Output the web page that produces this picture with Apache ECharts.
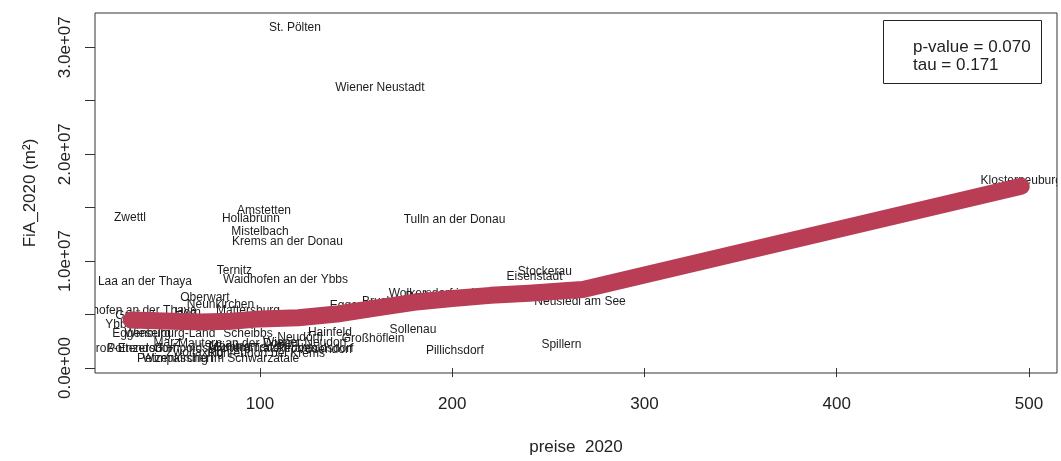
<!DOCTYPE html>
<html>
<head>
<meta charset="utf-8">
<script src="https://cdn.jsdelivr.net/npm/echarts@6/dist/echarts.min.js"></script>
<style>
  html, body { margin: 0; padding: 0; background: #fff; }
  #chart { width: 1061px; height: 461px; }
</style>
</head>
<body>
<div id="chart"></div>
<script>
// Gemeinden: Preis 2020 vs. FiA_2020
const gemeinden = [
  'St. Pölten', 'Wiener Neustadt', 'Klosterneuburg', 'Zwettl', 'Amstetten',
  'Hollabrunn', 'Mistelbach', 'Krems an der Donau', 'Tulln an der Donau', 'Laa an der Thaya',
  'Ternitz', 'Waidhofen an der Ybbs', 'Oberwart', 'Neunkirchen', 'Mattersburg',
  'Waidhofen an der Thaya', 'Horn', 'Gmünd', 'Ybbs an der Donau', 'Eggenburg',
  'Wieselburg-Land', 'Scheibbs', 'Hainfeld', 'Neudörfl', 'Großhöflein',
  'Sollenau', 'Pillichsdorf', 'Spillern', 'Neusiedl am See', 'Eisenstadt',
  'Stockerau', 'Wolkersdorf im Weinviertel', 'Baden', 'Bruck an der Leitha', 'Eggendorf',
  'Marz', 'Mautern an der Donau', 'Wiener Neudorf', 'Groß-Enzersdorf', 'Pottendorf',
  'Gumpoldskirchen', 'Mödling', 'Guntramsdorf', 'Traiskirchen', 'Perchtoldsdorf',
  'Vösendorf', 'Zwölfaxing', 'Rohrendorf bei Krems', 'Petzenkirchen', 'Wimpassing im Schwarzatale'
]
const preise = [
  118.2, 162.4, 496.0, 32.4, 102.1,
  95.3, 100.0, 114.3, 201.2, 40.2,
  86.7, 113.3, 71.4, 79.5, 93.8,
  32.9, 62.5, 35.0, 46.4, 38.4,
  53.2, 93.8, 136.4, 120.8, 158.8,
  179.6, 201.4, 256.8, 266.5, 242.8,
  248.2, 204.0, 184.8, 180.1, 150.7,
  51.6, 88.6, 123.4, 33.0, 35.0,
  68.9, 84.4, 94.8, 113.0, 128.6,
  133.8, 66.2, 103.3, 55.8, 79.7
]
const fia = [
  31790000, 26240000, 17540000, 14040000, 14680000,
  13940000, 12740000, 11830000, 13850000, 8110000,
  9130000, 8300000, 6540000, 5900000, 5340000,
  5340000, 5150000, 4870000, 4040000, 3210000,
  3210000, 3210000, 3300000, 2840000, 2750000,
  3580000, 1640000, 2190000, 6170000, 8580000,
  9040000, 6910000, 6630000, 6170000, 5800000,
  2380000, 2290000, 2380000, 1830000, 1830000,
  1830000, 2010000, 1920000, 1830000, 1830000,
  1740000, 1460000, 1360000, 900000, 900000
]

// lowess-Kurve
const lowessX = [33, 50, 69, 85, 100, 120, 140, 160, 180, 200, 220, 240, 260, 268, 496]
const lowessY = [4500000, 4400000, 4300000, 4370000, 4600000, 4700000, 5050000, 5600000,
  6150000, 6500000, 6800000, 7000000, 7250000, 7350000, 17000000]

const xTicks = [100, 200, 300, 400, 500]
const yTicks = [0, 5e6, 1e7, 1.5e7, 2e7, 2.5e7, 3e7]
const yLabels = [0, 1e7, 2e7, 3e7]
const legendLines = ['p-value = 0.070', 'tau = 0.171']

const FONT = '"Liberation Sans", Arial, sans-serif'
const INK = '#222'

function sci (v) {
  if (v === 0) return '0.0e+00'
  const e = Math.floor(Math.log10(Math.abs(v)))
  const m = v / Math.pow(10, e)
  return m.toFixed(1) + 'e' + (e < 0 ? '-' : '+') + String(Math.abs(e)).padStart(2, '0')
}

const chart = echarts.init(document.getElementById('chart'))

const option = {
  animation: false,
  backgroundColor: '#fff',
  grid: {
    left: 95, right: 4, top: 13, bottom: 84,
    show: true, borderColor: '#333', borderWidth: 1, backgroundColor: 'transparent'
  },
  xAxis: {
    type: 'value',
    min: 14.2,
    max: 514.6,
    name: 'preise  2020',
    nameLocation: 'middle',
    nameGap: 66,
    nameTextStyle: { fontFamily: FONT, fontSize: 17, color: INK },
    axisLine: { show: false },
    splitLine: { show: false },
    axisTick: { show: true, inside: false, length: 9, customValues: xTicks, lineStyle: { color: '#333' } },
    axisLabel: { customValues: xTicks, margin: 23, fontFamily: FONT, fontSize: 17, color: INK }
  },
  yAxis: {
    type: 'value',
    min: -460000,
    max: 33200000,
    name: 'FiA_2020 (m²)',
    nameLocation: 'middle',
    nameRotate: 90,
    nameGap: 56,
    nameTextStyle: { fontFamily: FONT, fontSize: 17, color: INK },
    axisLine: { show: false },
    splitLine: { show: false },
    axisTick: { show: true, inside: false, length: 10, customValues: yTicks, lineStyle: { color: '#333' } },
    axisLabel: {
      customValues: yLabels, rotate: 90, margin: 21,
      fontFamily: FONT, fontSize: 17, color: INK,
      formatter: v => sci(v)
    }
  },
  series: [
    {
      type: 'custom',
      name: 'gemeinden',
      clip: true,
      z: 2,
      data: preise.map((x, i) => [x, fia[i]]),
      encode: { x: 0, y: 1 },
      renderItem: (params, api) => {
        const p = api.coord([api.value(0), api.value(1)])
        return {
          type: 'text',
          x: p[0],
          y: p[1],
          style: {
            text: gemeinden[params.dataIndex],
            align: 'center',
            verticalAlign: 'middle',
            fill: '#1c1c1c',
            font: '12px ' + FONT
          }
        }
      }
    },
    {
      type: 'line',
      name: 'lowess',
      z: 3,
      showSymbol: false,
      symbol: 'none',
      data: lowessX.map((x, i) => [x, lowessY[i]]),
      lineStyle: { color: '#b93d55', width: 17, cap: 'round', join: 'round' }
    }
  ],
  graphic: [
    {
      type: 'rect',
      z: 10,
      shape: { x: 883.5, y: 20.5, width: 158, height: 63 },
      style: { fill: '#fff', stroke: '#222', lineWidth: 1 }
    },
    ...legendLines.map((t, i) => ({
      type: 'text',
      z: 11,
      x: 913,
      y: 47 + i * 18.5,
      style: { text: t, font: '17px ' + FONT, fill: INK, verticalAlign: 'middle' }
    }))
  ]
}

chart.setOption(option)
</script>
</body>
</html>
